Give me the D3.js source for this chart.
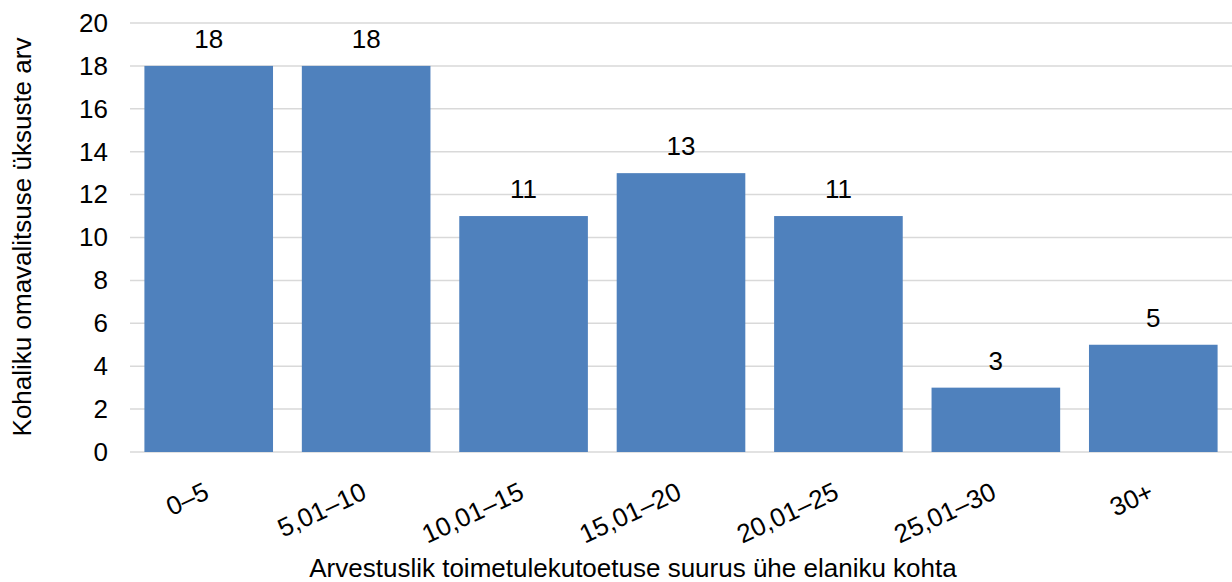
<!DOCTYPE html>
<html>
<head>
<meta charset="utf-8">
<script src="https://cdn.jsdelivr.net/npm/d3@7"></script>
<style>
  body { margin: 0; background: #fff; }
  text { font-family: "Liberation Sans", Arial, sans-serif; fill: #000; }
</style>
</head>
<body>
<div id="vis"></div>
<script>
const categories = ['0–5', '5,01–10', '10,01–15', '15,01–20', '20,01–25', '25,01–30', '30+']
const values = [18, 18, 11, 13, 11, 3, 5]
const yTicks = [0, 2, 4, 6, 8, 10, 12, 14, 16, 18, 20]

const W = 1232, H = 582
const plot = { left: 130, right: 1232, top: 23, bottom: 452 }
const fs = '26px'

const svg = d3.select('#vis')
    .append('svg')
    .attr('width', W)
    .attr('height', H)

const xScale = d3.scaleBand()
    .domain(categories)
    .range([plot.left, plot.right])
    .paddingInner(0.183)
    .paddingOuter(0.0915)

const yScale = d3.scaleLinear()
    .domain([0, 20])
    .range([plot.bottom, plot.top])

// gridlines
svg.append('g')
    .selectAll('line')
    .data(yTicks)
    .join('line')
    .attr('x1', plot.left)
    .attr('x2', plot.right)
    .attr('y1', d => yScale(d))
    .attr('y2', d => yScale(d))
    .style('stroke', '#d9d9d9')
    .style('stroke-width', 1.5)

// y axis labels
const yAxis = d3.axisLeft(yScale).tickValues(yTicks).tickSize(0).tickPadding(0)
svg.append('g')
    .attr('transform', `translate(${plot.left - 22},0)`)
    .call(yAxis)
    .call(g => g.select('.domain').remove())
    .selectAll('text')
    .style('font-size', fs)
    .style('font-family', '"Liberation Sans", Arial, sans-serif')

// bars
svg.selectAll('.bar')
    .data(values)
    .join('rect')
    .attr('class', 'bar')
    .attr('x', (d, i) => xScale(categories[i]))
    .attr('y', d => yScale(d))
    .attr('width', xScale.bandwidth())
    .attr('height', d => yScale(0) - yScale(d))
    .style('fill', '#4f81bd')

// value labels
svg.selectAll('.val')
    .data(values)
    .join('text')
    .attr('class', 'val')
    .attr('x', (d, i) => xScale(categories[i]) + xScale.bandwidth() / 2)
    .attr('y', d => yScale(d) - 18)
    .attr('text-anchor', 'middle')
    .style('font-size', fs)
    .text(d => d)

// x category labels, rotated
svg.selectAll('.xlab')
    .data(categories)
    .join('text')
    .attr('class', 'xlab')
    .attr('text-anchor', 'end')
    .attr('transform', d => `translate(${xScale(d) + xScale.bandwidth() / 2 + 2},${plot.bottom + 46}) rotate(-25)`)
    .style('font-size', fs)
    .text(d => d)

// axis titles
svg.append('text')
    .attr('x', 633)
    .attr('y', 577)
    .attr('text-anchor', 'middle')
    .style('font-size', fs)
    .text('Arvestuslik toimetulekutoetuse suurus ühe elaniku kohta')

svg.append('text')
    .attr('transform', `translate(31,237) rotate(-90)`)
    .attr('text-anchor', 'middle')
    .style('font-size', fs)
    .text('Kohaliku omavalitsuse üksuste arv')
</script>
</body>
</html>
